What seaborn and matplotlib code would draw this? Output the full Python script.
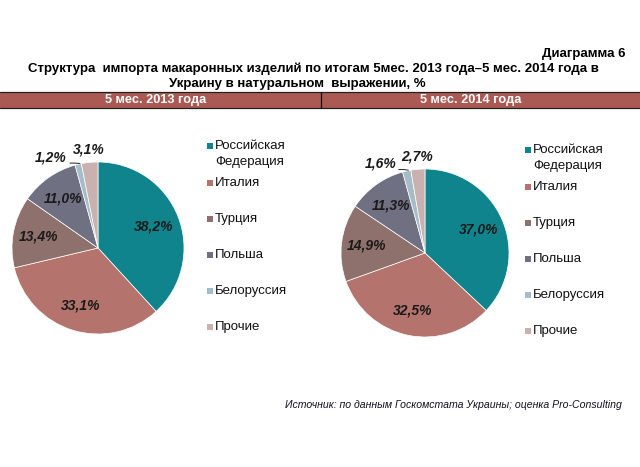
import numpy as np
import matplotlib
matplotlib.use("Agg")
import matplotlib.pyplot as plt
from matplotlib.patches import Rectangle
import seaborn as sns

# data
countries = ["Российская\nФедерация", "Италия", "Турция", "Польша", "Белоруссия", "Прочие"]
share_2013 = [38.2, 33.1, 13.4, 11.0, 1.2, 3.1]
share_2014 = [37.0, 32.5, 14.9, 11.3, 1.6, 2.7]
period_labels = ["5 мес. 2013 года", "5 мес. 2014 года"]
colors = ["#0F848D", "#B4736C", "#8E716C", "#6F7183", "#A6BCC8", "#C8B1AF"]

sns.set_theme(style="white")
plt.rcParams["font.family"] = ["Liberation Sans", "DejaVu Sans"]

fig = plt.figure(figsize=(6.4, 4.67), dpi=100)
W, H = 640, 467

# background axes in pixel coordinates for header, band, legends, source
bg = fig.add_axes([0, 0, 1, 1])
bg.set_xlim(0, W)
bg.set_ylim(H, 0)
bg.axis("off")

bg.text(625, 54, "Диаграмма 6", ha="right", va="center", fontsize=9.5,
        fontweight="bold", color="black")
bg.text(313, 69, "Структура  импорта макаронных изделий по итогам 5мес. 2013 года–5 мес. 2014 года в",
        ha="center", va="center", fontsize=9.5, fontweight="bold", color="black")
bg.text(297, 84, "Украину в натуральном  выражении, %", ha="center", va="center",
        fontsize=9.5, fontweight="bold", color="black")

# header band
bg.add_patch(Rectangle((0, 92), W, 16, facecolor="#AB5A53", edgecolor="none"))
bg.plot([0, W], [92, 92], color="#222222", lw=0.9)
bg.plot([0, W], [108, 108], color="#222222", lw=0.9)
bg.plot([321, 321], [92, 108], color="#111111", lw=0.9)
for cx, lab in zip([156, 471], period_labels):
    bg.text(cx, 100.5, lab, ha="center", va="center", fontsize=9.2, fontweight="bold",
            color="white")

bg.text(622, 405, "Источник: по данным Госкомстата Украины; оценка Pro-Consulting",
        ha="right", va="center", fontsize=7.6, style="italic", color="#111122")


def fmt(v):
    return f"{v:.1f}".replace(".", ",") + "%"


def draw_pie(values, cx, cy, r, legend_x, legend_top):
    ax = fig.add_axes([(cx - r) / W, (H - cy - r) / H, 2 * r / W, 2 * r / H])
    wedges, _ = ax.pie(values, colors=colors, startangle=90, counterclock=False,
                       wedgeprops=dict(edgecolor="white", linewidth=0.5))
    ax.set_xlim(-1, 1)
    ax.set_ylim(-1, 1)
    ax.axis("off")
    for i, (w, v) in enumerate(zip(wedges, values)):
        mid = np.deg2rad((w.theta1 + w.theta2) / 2)
        style = dict(ha="center", va="center", fontsize=10, fontweight="bold",
                     style="italic", color="#1a1a1a")
        if v >= 5:
            ax.text(0.7 * np.cos(mid), 0.7 * np.sin(mid), fmt(v), **style)
        elif i == 4:
            tip = (np.cos(mid), np.sin(mid))
            ang = mid + np.deg2rad(14)
            pos = (1.19 * np.cos(ang), 1.19 * np.sin(ang))
            ax.text(pos[0], pos[1], fmt(v), **style)
            ax.plot([pos[0] + 0.22, pos[0] + 0.28, tip[0] + 0.02],
                    [pos[1] - 0.07, pos[1] - 0.07, tip[1] + 0.01],
                    color="#222222", lw=0.7, clip_on=False)
        else:
            ax.text(1.15 * np.cos(mid), 1.15 * np.sin(mid), fmt(v), **style)

    # legend
    ys = [legend_top] + [legend_top + 37 + 36 * k for k in range(len(countries) - 1)]
    for lab, col, y in zip(countries, colors, ys):
        bg.add_patch(Rectangle((legend_x, y - 3), 6, 6, facecolor=col, edgecolor="none"))
        parts = lab.split("\n")
        for j, part in enumerate(parts):
            bg.text(legend_x + 8, y + 16 * j, part, ha="left", va="center",
                    fontsize=9.5, color="#111111")


draw_pie(share_2013, 98, 248, 86, 207, 146)
draw_pie(share_2014, 425, 253, 84, 525, 150)

fig.savefig("out.png", dpi=100, facecolor="white")
